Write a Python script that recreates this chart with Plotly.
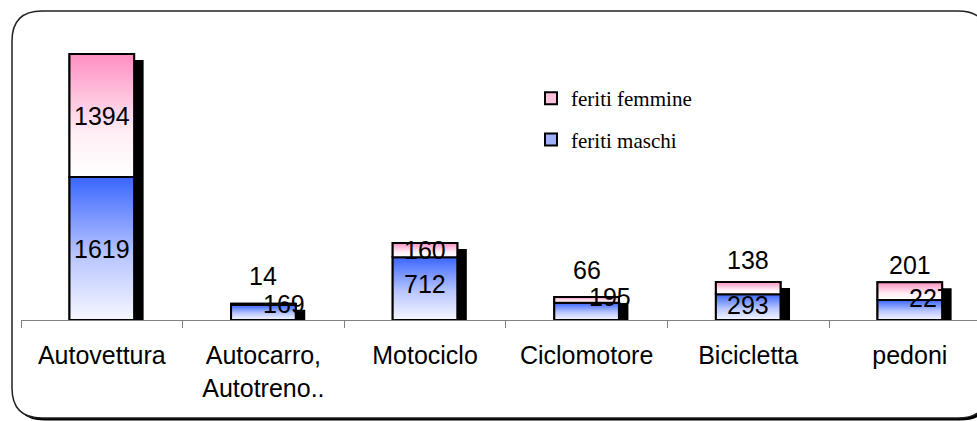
import plotly.graph_objects as go

# ---- data ----
categories = ["Autovettura", "Autocarro,<br>Autotreno..", "Motociclo", "Ciclomotore", "Bicicletta", "pedoni"]
feriti_maschi = [1619, 169, 712, 195, 293, 227]
feriti_femmine = [1394, 14, 160, 66, 138, 201]

# label placement styles (pixel offsets)
fem_yshift = [0, 28, 0, 30, 28, 26]
fem_xshift = [0, 0, 0, 0, 0, 0]
mas_yshift = [0, 9, 5, 14, 2, 12]
mas_xshift = [0, 21, 0, 23, 0, 20]

W, H = 977, 421
ML, MR, MT, MB = 21, 0, 11, 101
plot_w = W - ML - MR
plot_h = H - MT - MB
cat_px = 161.6
xmin = -0.5
xmax = xmin + plot_w / cat_px
ymax = 3500
bar_w = 0.40
shadow_dx = 9.5 / cat_px
shadow_dy = 6 * ymax / plot_h

xs = list(range(len(categories)))
totals = [m + f for m, f in zip(feriti_maschi, feriti_femmine)]

fig = go.Figure()

# shadow bars
fig.add_trace(go.Bar(
    x=[x + shadow_dx for x in xs], y=[max(t - shadow_dy, 0) for t in totals], base=0,
    width=bar_w, marker=dict(color="black", line=dict(width=0)),
    showlegend=False, hoverinfo="skip"))

# front bars (legend)
fig.add_trace(go.Bar(
    x=xs, y=feriti_maschi, base=0, width=bar_w, name="feriti maschi",
    marker=dict(color="#9fb1ff", line=dict(color="black", width=2)),
    legendgroup="m", legendrank=2))
fig.add_trace(go.Bar(
    x=xs, y=feriti_femmine, base=feriti_maschi, width=bar_w, name="feriti femmine",
    marker=dict(color="#ffc2dc", line=dict(color="black", width=2)),
    legendgroup="f", legendrank=1))

blue_scale = [[0, "#f6f7ff"], [0.45, "#b9c6ff"], [1, "#3a66ff"]]
pink_scale = [[0, "#ffffff"], [0.35, "#fff0f6"], [1, "#ff8fc1"]]

def seg(x, b, v, scale):
    x0, x1 = x - bar_w / 2, x + bar_w / 2
    fig.add_trace(go.Scatter(
        x=[x0, x1, x1, x0, x0], y=[b, b, b + v, b + v, b],
        mode="lines", fill="toself", line=dict(color="black", width=2),
        fillgradient=dict(type="vertical", colorscale=scale),
        showlegend=False, hoverinfo="skip"))

for x, m, f in zip(xs, feriti_maschi, feriti_femmine):
    seg(x, 0, m, blue_scale)
    seg(x, m, f, pink_scale)

# data labels
lab_font = dict(family="Liberation Sans, Arial", size=25, color="black")
for i, (m, f) in enumerate(zip(feriti_maschi, feriti_femmine)):
    fig.add_annotation(x=xs[i], y=m / 2, text=str(m), showarrow=False, font=lab_font,
                       xshift=mas_xshift[i], yshift=mas_yshift[i])
    fig.add_annotation(x=xs[i], y=m + f / 2, text=str(f), showarrow=False, font=lab_font,
                       xshift=fem_xshift[i], yshift=fem_yshift[i])

# frame
def px(xp):
    return (xp - ML) / plot_w

def py(yp):
    return (H - MB - yp) / plot_h

def rrect(x0, y0, x1, y1, r):
    pts = [
        ("M", (x0 + r, y0)), ("L", (x1 - r, y0)), ("Q", (x1, y0), (x1, y0 + r)),
        ("L", (x1, y1 - r)), ("Q", (x1, y1), (x1 - r, y1)), ("L", (x0 + r, y1)),
        ("Q", (x0, y1), (x0, y1 - r)), ("L", (x0, y0 + r)), ("Q", (x0, y0), (x0 + r, y0)),
    ]
    s = ""
    for p in pts:
        cmd = p[0]
        coords = " ".join(f"{px(a):.5f},{py(b):.5f}" for a, b in p[1:])
        s += f"{cmd}{coords} "
    return s + "Z"

fig.add_shape(type="path", path=rrect(14.5, 13.5, 990.5, 420.5, 30), xref="paper", yref="paper",
              fillcolor="black", line=dict(width=0), layer="below")
fig.add_shape(type="path", path=rrect(12, 11, 988, 418, 30), xref="paper", yref="paper",
              fillcolor="white", line=dict(color="#222222", width=1.5), layer="below")

boundaries = [x - 0.5 for x in xs] + [xs[-1] + 0.5]

fig.update_layout(
    width=W, height=H,
    margin=dict(l=ML, r=MR, t=MT, b=MB),
    paper_bgcolor="white", plot_bgcolor="rgba(0,0,0,0)",
    barmode="overlay",
    showlegend=True,
    legend=dict(x=px(531), y=py(78), xanchor="left", yanchor="top",
                bgcolor="rgba(0,0,0,0)", font=dict(family="Liberation Serif, Times New Roman", size=21, color="black"),
                tracegroupgap=11, traceorder="grouped"),
    xaxis=dict(range=[xmin, xmax], tickvals=xs, ticktext=categories, ticks="",
               tickfont=dict(family="Liberation Sans, Arial", size=25, color="black"),
               showline=True, linecolor="#808080", linewidth=1, showgrid=False, zeroline=False,
               ticklabelstandoff=13,
               minor=dict(tickvals=boundaries, ticks="outside", ticklen=7, tickcolor="#808080", tickwidth=1, showgrid=False)),
    yaxis=dict(range=[0, ymax], visible=False, showgrid=False, zeroline=False),
)

fig.write_html("out.html", config={"displayModeBar": False},
               post_script="document.body.style.margin='0px';document.body.style.overflow='hidden';")
